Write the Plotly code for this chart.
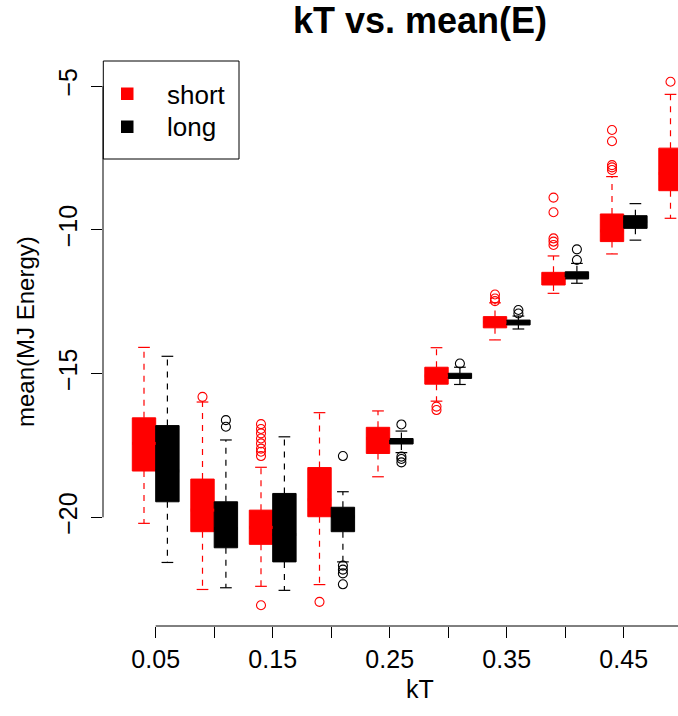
import plotly.graph_objects as go

# ---- data: five-number summaries (whisker ends, quartiles, median) and outliers
kT = [0.05, 0.10, 0.15, 0.20, 0.25, 0.30, 0.35, 0.40, 0.45, 0.50]

short_lower  = [-20.21, -22.51, -22.40, -22.34, -18.59, -15.96, -13.83, -12.21, -10.84, -9.60]
short_q1     = [-18.39, -20.50, -20.94, -19.98, -17.78, -15.37, -13.41, -11.92, -10.41, -8.64]
short_median = [-17.43, -19.75, -20.35, -19.39, -17.26, -15.08, -13.21, -11.70, -10.04, -8.04]
short_q3     = [-16.54, -18.67, -19.75, -18.27, -16.87, -14.78, -13.02, -11.48, -9.45, -7.16]
short_upper  = [-14.09, -15.99, -18.26, -16.36, -16.30, -14.10, -12.54, -10.91, -8.15, -5.29]
short_outliers = [
    [],
    [-15.81],
    [-16.76, -16.93, -17.08, -17.26, -17.43, -17.61, -17.72, -17.87, -23.06],
    [-22.94],
    [],
    [-16.15, -16.27],
    [-12.25, -12.39, -12.48],
    [-8.88, -9.39, -10.30, -10.41, -10.53],
    [-6.53, -6.92, -7.75, -7.83, -7.92],
    [-4.85],
]

long_kT     = [0.05, 0.10, 0.15, 0.20, 0.25, 0.30, 0.35, 0.40, 0.45]
long_lower  = [-21.57, -22.45, -22.54, -21.55, -17.75, -15.38, -13.45, -11.86, -10.36]
long_q1     = [-19.46, -21.06, -21.55, -20.50, -17.45, -15.17, -13.31, -11.71, -9.95]
long_median = [-18.39, -20.39, -20.60, -19.98, -17.35, -15.08, -13.21, -11.59, -9.72]
long_q3     = [-16.81, -19.46, -19.17, -19.65, -17.26, -14.99, -13.14, -11.46, -9.51]
long_upper  = [-14.40, -17.31, -17.20, -19.11, -17.00, -14.78, -13.00, -11.17, -9.09]
long_outliers = [
    [],
    [-16.62, -16.85],
    [],
    [-17.87, -21.68, -21.82, -21.95, -22.33],
    [-16.77, -17.89, -17.97, -18.09],
    [-14.65],
    [-12.79, -12.91],
    [-10.68, -11.05],
    [],
]

x_tick_vals = [0.05, 0.10, 0.15, 0.20, 0.25, 0.30, 0.35, 0.40, 0.45, 0.50]
x_tick_text = ["0.05", "", "0.15", "", "0.25", "", "0.35", "", "0.45", ""]
y_tick_vals = [-5, -10, -15, -20]

# ---- geometry / style
W, H = 678, 716
ML, MR, MT, MB = 103, 0, 59, 90
BOX_W = 0.02        # box width in kT units
SHIFT = 0.01        # offset of each series from the group centre
CAP_W = 0.01        # whisker staple width
FONT = "Liberation Sans, Arial, Helvetica, sans-serif"
RED, BLACK = "#ff0000", "#000000"


def fx(px):
    return (px - ML) / (W - ML - MR)


def fy(py):
    return (H - MB - py) / (H - MT - MB)


fig = go.Figure()


def add_series(name, color, centers, lower, q1, med, q3, upper, outliers):
    # boxes
    fig.add_trace(go.Bar(
        x=centers, base=q1, y=[b - a for a, b in zip(q1, q3)], width=BOX_W,
        marker=dict(color=color, line=dict(color=color, width=1)),
        name=name, showlegend=False, hoverinfo="skip"))
    # dashed whiskers
    wx, wy = [], []
    for c, lo, a, b, hi in zip(centers, lower, q1, q3, upper):
        wx += [c, c, None, c, c, None]
        wy += [b, hi, None, a, lo, None]
    fig.add_trace(go.Scatter(x=wx, y=wy, mode="lines", showlegend=False,
                             hoverinfo="skip",
                             line=dict(color=color, width=1.2, dash="6px,6px")))
    # staples
    sx, sy = [], []
    for c, lo, hi in zip(centers, lower, upper):
        sx += [c - CAP_W / 2, c + CAP_W / 2, None, c - CAP_W / 2, c + CAP_W / 2, None]
        sy += [hi, hi, None, lo, lo, None]
    fig.add_trace(go.Scatter(x=sx, y=sy, mode="lines", showlegend=False,
                             hoverinfo="skip", line=dict(color=color, width=1.2)))
    # medians
    mx, my = [], []
    for c, m in zip(centers, med):
        mx += [c - BOX_W / 2, c + BOX_W / 2, None]
        my += [m, m, None]
    fig.add_trace(go.Scatter(x=mx, y=my, mode="lines", showlegend=False,
                             hoverinfo="skip", line=dict(color=color, width=3)))
    # outliers
    ox, oy = [], []
    for c, pts in zip(centers, outliers):
        ox += [c] * len(pts)
        oy += pts
    fig.add_trace(go.Scatter(x=ox, y=oy, mode="markers", showlegend=False,
                             hoverinfo="skip",
                             marker=dict(symbol="circle-open", size=9,
                                         color=color, line=dict(width=1.1))))


add_series("short", RED, [k - SHIFT for k in kT],
           short_lower, short_q1, short_median, short_q3, short_upper, short_outliers)
add_series("long", BLACK, [k + SHIFT for k in long_kT],
           long_lower, long_q1, long_median, long_q3, long_upper, long_outliers)

shapes = [
    # x axis line from first to last tick
    dict(type="line", xref="x", yref="paper", x0=x_tick_vals[0], x1=x_tick_vals[-1],
         y0=0, y1=0, line=dict(color="black", width=1)),
    # y axis line from first to last tick
    dict(type="line", xref="paper", yref="y", x0=0, x1=0,
         y0=y_tick_vals[0], y1=y_tick_vals[-1], line=dict(color="black", width=1)),
    # legend frame and keys
    dict(type="rect", xref="paper", yref="paper", x0=fx(103.3), x1=fx(239),
         y0=fy(159), y1=fy(61), line=dict(color="black", width=1)),
    dict(type="rect", xref="paper", yref="paper", x0=fx(121), x1=fx(133.5),
         y0=fy(100), y1=fy(87.5), line=dict(width=0), fillcolor=RED),
    dict(type="rect", xref="paper", yref="paper", x0=fx(121), x1=fx(133.5),
         y0=fy(133), y1=fy(120.5), line=dict(width=0), fillcolor=BLACK),
]

annotations = [
    dict(text="short", xref="paper", yref="paper", x=fx(165), y=fy(95),
         xanchor="left", yanchor="middle", showarrow=False,
         font=dict(family=FONT, size=26, color="black")),
    dict(text="long", xref="paper", yref="paper", x=fx(165), y=fy(127),
         xanchor="left", yanchor="middle", showarrow=False,
         font=dict(family=FONT, size=26, color="black")),
    dict(text="kT", xref="paper", yref="paper", x=fx(420), y=fy(689),
         xanchor="center", yanchor="middle", showarrow=False,
         font=dict(family=FONT, size=25, color="black")),
    dict(text="mean(MJ Energy)", xref="paper", yref="paper", x=fx(25), y=fy(332),
         xanchor="center", yanchor="middle", showarrow=False, textangle=-90,
         font=dict(family=FONT, size=24, color="black")),
]

x0 = 0.05 - (155.7 - ML) / 1170.0
x1 = x0 + (W - ML - MR) / 1170.0

fig.update_layout(
    width=W, height=H, autosize=False,
    margin=dict(l=ML, r=MR, t=MT, b=MB, pad=0),
    paper_bgcolor="white", plot_bgcolor="white",
    barmode="overlay", showlegend=False,
    font=dict(family=FONT, color="black"),
    title=dict(text="<b>kT vs. mean(E)</b>", x=420 / W, xanchor="center",
               xref="container", yref="container", y=1 - 20 / H, yanchor="middle",
               font=dict(family=FONT, size=36, color="black")),
    xaxis=dict(range=[x0, x1], tickmode="array", tickvals=x_tick_vals,
               ticktext=x_tick_text, ticks="outside", ticklen=11, tickwidth=1,
               tickcolor="black", showline=False, showgrid=False, zeroline=False,
               tickfont=dict(family=FONT, size=25, color="black")),
    yaxis=dict(range=[-23.78, -4.06], tickmode="array", tickvals=y_tick_vals,
               ticks="outside", ticklen=11, tickwidth=1, tickcolor="black",
               tickangle=-90, ticklabelstandoff=4, showline=False, showgrid=False,
               zeroline=False,
               tickfont=dict(family=FONT, size=25, color="black")),
    shapes=shapes, annotations=annotations,
)

fig.write_html("out.html")
